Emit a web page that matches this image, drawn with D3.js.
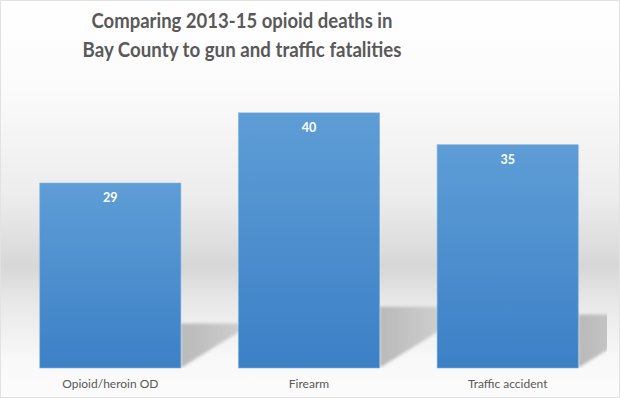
<!DOCTYPE html>
<html>
<head>
<meta charset="utf-8">
<script src="https://cdn.jsdelivr.net/npm/d3@7"></script>
<style>
  html, body { margin: 0; padding: 0; background: #fff; }
  svg { display: block; }
</style>
</head>
<body>
<div id="chart"></div>
<script>
const categories = ['Opioid/heroin OD', 'Firearm', 'Traffic accident'];
const deaths = [29, 40, 35];
const titleLines = ['Comparing 2013-15 opioid deaths in', 'Bay County to gun and traffic fatalities'];

const width = 620;
const height = 398;
const margin = { top: 81, right: 13, bottom: 30, left: 11 };

const svg = d3.select('#chart')
    .append('svg')
    .attr('width', width)
    .attr('height', height);

const defs = svg.append('defs');

// background: white, a grey band behind the lower part of the bars
const bg = defs.append('linearGradient')
    .attr('id', 'bg').attr('x1', 0).attr('y1', 0).attr('x2', 0).attr('y2', 1);
[[0, '#ffffff'], [0.22, '#fbfbfb'], [0.5, '#ececec'], [0.67, '#d7d7d7'], [0.76, '#e8e8e8'], [0.9, '#f8f8f8'], [1, '#fcfcfc']]
    .forEach(([o, c]) => bg.append('stop').attr('offset', o).attr('stop-color', c));

const barFill = defs.append('linearGradient')
    .attr('id', 'barFill').attr('x1', 0).attr('y1', 0).attr('x2', 0).attr('y2', 1);
barFill.append('stop').attr('offset', 0).attr('stop-color', '#5e9dd6');
barFill.append('stop').attr('offset', 1).attr('stop-color', '#3c80c6');

const shadowFill = defs.append('linearGradient')
    .attr('id', 'shadowFill').attr('x1', 0).attr('y1', 0).attr('x2', 1).attr('y2', 0);
shadowFill.append('stop').attr('offset', 0).attr('stop-color', '#b9b9b9');
shadowFill.append('stop').attr('offset', 1).attr('stop-color', '#cfcfcf');

defs.append('filter').attr('id', 'blur')
    .attr('x', -0.2).attr('y', -0.2).attr('width', 1.4).attr('height', 1.4)
    .append('feGaussianBlur').attr('stdDeviation', 1.6);

svg.append('rect')
    .attr('x', 0.5).attr('y', 0.5)
    .attr('width', width - 1).attr('height', height - 1)
    .attr('fill', 'url(#bg)')
    .attr('stroke', '#e2e2e2');

const x = d3.scaleBand()
    .domain(categories)
    .range([margin.left, width - margin.right])
    .paddingInner(0.29)
    .paddingOuter(0.145);

const y = d3.scaleLinear()
    .domain([0, 45])
    .range([height - margin.bottom, margin.top]);

const data = categories.map((c, i) => ({ name: c, value: deaths[i] }));
const baseY = y(0);

defs.append('clipPath').attr('id', 'plotClip')
    .append('rect')
    .attr('x', margin.left).attr('y', margin.top)
    .attr('width', width - margin.left - margin.right)
    .attr('height', baseY - margin.top);

// perspective shadows to the right of each bar
svg.append('g')
    .attr('clip-path', 'url(#plotClip)')
    .selectAll('path')
    .data(data)
    .enter()
    .append('path')
    .attr('d', d => {
        const x0 = x(d.name) + x.bandwidth();
        const sh = (baseY - y(d.value)) * 0.24;
        const w = 62;
        return `M${x0},${baseY} L${x0},${baseY - sh} L${x0 + w},${baseY - sh} L${x0 + w},${baseY - w * 0.62} Z`;
    })
    .attr('fill', 'url(#shadowFill)')
    .attr('filter', 'url(#blur)');

const barGroup = svg.append('g')
    .selectAll('g')
    .data(data)
    .enter()
    .append('g')
    .attr('transform', d => `translate(${x(d.name)},0)`);

barGroup.append('rect')
    .attr('x', 0)
    .attr('y', d => y(d.value))
    .attr('width', x.bandwidth())
    .attr('height', d => baseY - y(d.value))
    .attr('fill', 'url(#barFill)')
    .attr('stroke', '#78aede')
    .attr('stroke-width', 0.6);

barGroup.append('text')
    .attr('x', x.bandwidth() / 2)
    .attr('y', d => y(d.value) + 19)
    .attr('text-anchor', 'middle')
    .attr('font-family', 'Lato, "Open Sans", sans-serif')
    .attr('font-weight', 'bold')
    .attr('font-size', '12.5px')
    .attr('fill', '#ffffff')
    .text(d => d.value);

// category axis
const xAxis = svg.append('g')
    .attr('transform', `translate(0,${baseY})`)
    .call(d3.axisBottom(x).tickSize(0).tickPadding(11));
xAxis.select('.domain').remove();
xAxis.selectAll('text')
    .attr('font-family', 'Lato, "Open Sans", sans-serif')
    .attr('font-size', '12px')
    .attr('fill', '#595959');

// title (Calibri-like width, squeezed to the reference line lengths)
const titleWidths = [301, 319];
svg.append('text')
    .attr('text-anchor', 'middle')
    .attr('font-family', 'Lato, "Open Sans", sans-serif')
    .attr('font-weight', 'bold')
    .attr('font-size', '20px')
    .attr('fill', '#595959')
    .selectAll('tspan')
    .data(titleLines)
    .enter()
    .append('tspan')
    .attr('x', 242)
    .attr('y', (d, i) => 28 + i * 29)
    .attr('textLength', (d, i) => titleWidths[i])
    .attr('lengthAdjust', 'spacingAndGlyphs')
    .text(d => d);
</script>
</body>
</html>
